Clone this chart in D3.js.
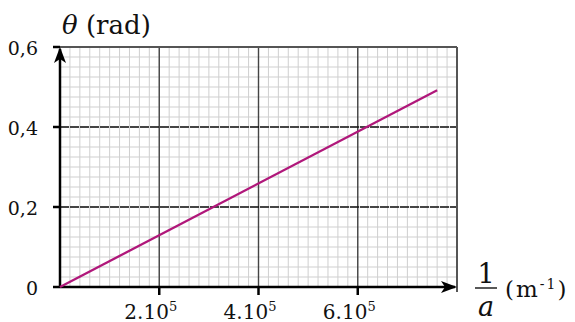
<!DOCTYPE html>
<meta charset="utf-8">
<script src="https://d3js.org/d3.v7.min.js"></script>
<html>
<head>
  <style>
    body { margin: 0; background: #fff; }
  </style>
</head>
<body>
<div id="my_dataviz"></div>
<script>
  // data: 1/a (m^-1) vs theta (rad)
  var invA = [0, 760000];
  var theta = [0, 0.492];

  var xTicks = [200000, 400000, 600000];
  var xTickLabels = ["2.10", "4.10", "6.10"];
  var yTicks = [0, 0.2, 0.4, 0.6];
  var yTickLabels = ["0", "0,2", "0,4", "0,6"];

  var W = 575, H = 322;
  var margin = {top: 47, right: 118, bottom: 35, left: 60};
  var serif = "DejaVu Serif";

  var svg = d3.select("#my_dataviz")
    .append("svg")
      .attr("width", W)
      .attr("height", H);

  var x = d3.scaleLinear().domain([0, 800000]).range([margin.left, W - margin.right]);
  var y = d3.scaleLinear().domain([0, 0.6]).range([H - margin.bottom, margin.top]);

  // minor grid
  var grid = svg.append("g");
  grid.selectAll(".vminor")
    .data(d3.range(0, 800001, 20000))
    .enter().append("line")
      .attr("x1", function(d) { return x(d); })
      .attr("x2", function(d) { return x(d); })
      .attr("y1", y(0)).attr("y2", y(0.6))
      .style("stroke", "#cfcfcf").style("stroke-width", 1);
  grid.selectAll(".hminor")
    .data(d3.range(0, 25).map(function(i) { return i * 0.025; }))
    .enter().append("line")
      .attr("y1", function(d) { return y(d); })
      .attr("y2", function(d) { return y(d); })
      .attr("x1", x(0)).attr("x2", x(800000))
      .style("stroke", "#cfcfcf").style("stroke-width", 1);

  // major grid
  grid.selectAll(".vmajor")
    .data(xTicks)
    .enter().append("line")
      .attr("x1", function(d) { return x(d); })
      .attr("x2", function(d) { return x(d); })
      .attr("y1", y(0)).attr("y2", y(0.6))
      .style("stroke", "#444").style("stroke-width", 1.4);
  grid.selectAll(".hmajor")
    .data([0.2, 0.4])
    .enter().append("line")
      .attr("y1", function(d) { return y(d); })
      .attr("y2", function(d) { return y(d); })
      .attr("x1", x(0)).attr("x2", x(800000))
      .style("stroke", "#111").style("stroke-width", 1.6)
      .style("stroke-dasharray", "9,1");

  // border top / right
  svg.append("line")
    .attr("x1", x(0)).attr("x2", x(800000))
    .attr("y1", y(0.6)).attr("y2", y(0.6))
    .style("stroke", "#555").style("stroke-width", 2);
  svg.append("line")
    .attr("x1", x(800000)).attr("x2", x(800000))
    .attr("y1", y(0.6)).attr("y2", y(0) + 5)
    .style("stroke", "#555").style("stroke-width", 2);

  // axes
  svg.append("line")
    .attr("x1", x(0)).attr("x2", x(800000) - 2)
    .attr("y1", y(0)).attr("y2", y(0))
    .style("stroke", "#000").style("stroke-width", 2.5);
  svg.append("line")
    .attr("x1", x(0)).attr("x2", x(0))
    .attr("y1", y(0)).attr("y2", y(0.6) + 2)
    .style("stroke", "#000").style("stroke-width", 2.5);

  // arrow heads
  var xe = x(800000), ye = y(0), yt = y(0.6), xo = x(0);
  svg.append("path")
    .attr("d", "M" + xe + "," + ye + " L" + (xe - 16) + "," + (ye - 6) + " L" + (xe - 12) + "," + ye + " L" + (xe - 16) + "," + (ye + 6) + "Z")
    .style("fill", "#000");
  svg.append("path")
    .attr("d", "M" + xo + "," + yt + " L" + (xo - 6) + "," + (yt + 16) + " L" + xo + "," + (yt + 12) + " L" + (xo + 6) + "," + (yt + 16) + "Z")
    .style("fill", "#000");

  // tick marks
  svg.selectAll(".xtick")
    .data(xTicks)
    .enter().append("line")
      .attr("x1", function(d) { return x(d); })
      .attr("x2", function(d) { return x(d); })
      .attr("y1", y(0)).attr("y2", y(0) + 8)
      .style("stroke", "#000").style("stroke-width", 2.5);
  svg.selectAll(".ytick")
    .data(yTicks)
    .enter().append("line")
      .attr("x1", x(0) - 7).attr("x2", x(0))
      .attr("y1", function(d) { return y(d); })
      .attr("y2", function(d) { return y(d); })
      .style("stroke", "#000").style("stroke-width", 2.5);

  // tick labels
  svg.selectAll(".ylab")
    .data(yTicks)
    .enter().append("text")
      .attr("x", x(0) - 22)
      .attr("y", function(d) { return y(d); })
      .attr("dy", 8)
      .attr("text-anchor", "end")
      .attr("font-family", serif)
      .attr("font-size", 19)
      .attr("fill", "#111")
      .text(function(d, i) { return yTickLabels[i]; });

  var xl = svg.selectAll(".xlab")
    .data(xTicks)
    .enter().append("text")
      .attr("x", function(d) { return x(d) - 8.5; })
      .attr("y", 319)
      .attr("text-anchor", "middle")
      .attr("font-family", serif)
      .attr("font-size", 20)
      .attr("fill", "#111");
  xl.append("tspan").text(function(d, i) { return xTickLabels[i]; });
  xl.append("tspan").attr("dy", -8).attr("font-size", 13).text("5");

  // data line
  var line = d3.line()
    .x(function(d, i) { return x(invA[i]); })
    .y(function(d, i) { return y(theta[i]); });
  svg.append("path")
    .datum(invA)
    .attr("d", line)
    .style("fill", "none")
    .style("stroke", "#b0177a")
    .style("stroke-width", 2.3);

  // axis titles
  var t = svg.append("text")
    .attr("x", 62).attr("y", 34)
    .attr("font-family", serif)
    .attr("font-size", 26)
    .attr("fill", "#111");
  t.append("tspan").attr("font-style", "italic").text("θ");
  t.append("tspan").text(" (rad)");

  svg.append("text")
    .attr("x", 486).attr("y", 283)
    .attr("text-anchor", "middle")
    .attr("font-family", serif)
    .attr("font-size", 27)
    .attr("fill", "#111")
    .text("1");
  svg.append("line")
    .attr("x1", 475).attr("x2", 497)
    .attr("y1", 288).attr("y2", 288)
    .style("stroke", "#111").style("stroke-width", 1.4);
  svg.append("text")
    .attr("x", 486).attr("y", 316)
    .attr("text-anchor", "middle")
    .attr("font-family", serif)
    .attr("font-size", 27)
    .attr("font-style", "italic")
    .attr("fill", "#111")
    .text("a");

  var u = svg.append("text")
    .attr("x", 505).attr("y", 297)
    .attr("font-family", serif)
    .attr("font-size", 23)
    .attr("letter-spacing", 2)
    .attr("fill", "#111");
  u.append("tspan").text("(m");
  u.append("tspan").attr("dy", -8).attr("font-size", 14).text("-1");
  u.append("tspan").attr("dy", 8).text(")");
</script>
</body>
</html>
